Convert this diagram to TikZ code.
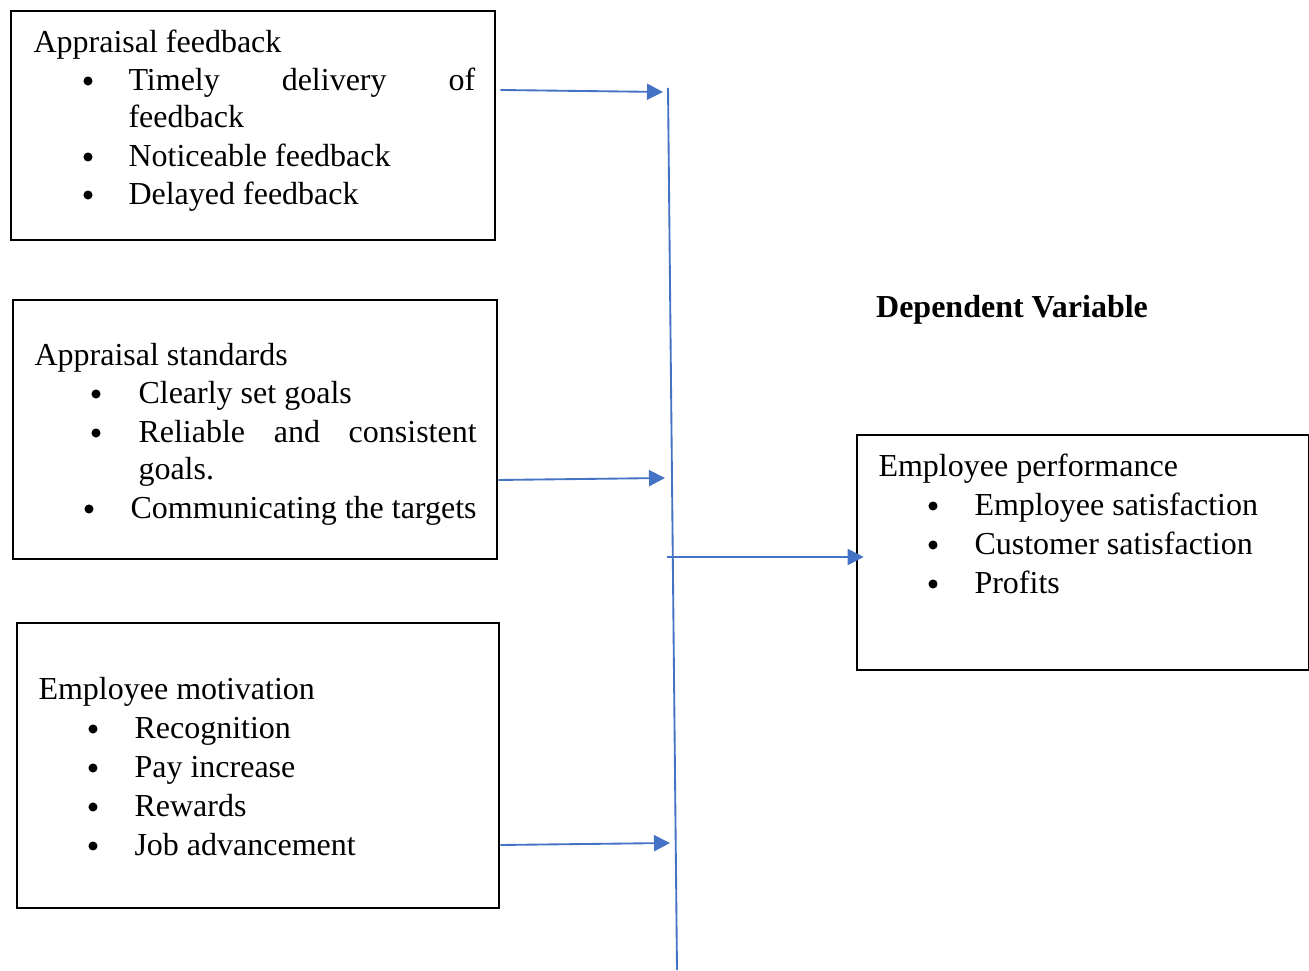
\documentclass[tikz,border=0pt]{standalone}
\usepackage{fontspec}
\setmainfont{Liberation Serif}
\usetikzlibrary{arrows.meta,fit}
\definecolor{linkblue}{HTML}{4472C4}

\begin{document}
\begin{tikzpicture}[x=0.375pt, y=-0.375pt,
    box/.style={draw, line width=1pt, inner sep=0pt},
    txt/.style={anchor=base west, inner sep=0pt, font=\fontsize{12}{14}\selectfont},
    dot/.style={circle, fill, inner sep=0pt, minimum size=3.4pt},
    link/.style={draw=linkblue, line width=0.7pt},
    arr/.style={link, -{Triangle[length=6pt,width=6pt]}}]
  \useasboundingbox (0,0) rectangle (1309,971);

  % Boxes
  \node[box, fit={(11,11)(495,240)}] (feedback) {};
  \node[box, fit={(13,300)(497,559)}] (standards) {};
  \node[box, fit={(17,623)(499,908)}] (motivation) {};
  \node[box, fit={(857,435)(1309,670)}] (performance) {};

  % Appraisal feedback
  \node[txt] (fbhead) at (33,53) {Appraisal feedback};
  \node[txt] (fb1) at (128,91) {\makebox[130pt][s]{Timely delivery of}};
  \node[txt] (fb1b) at (128,128) {feedback};
  \node[txt] (fb2) at (128,167) {Noticeable feedback};
  \node[txt] (fb3) at (128,205) {Delayed feedback};
  \foreach \y [count=\i] in {81,157,195}
    \node[dot] (fbdot\i) at (88,\y) {};

  % Appraisal standards
  \node[txt] (sthead) at (34,366) {Appraisal standards};
  \node[txt] (st1) at (138,404) {Clearly set goals};
  \node[txt] (st2) at (138,443) {\makebox[126.8pt][s]{Reliable and consistent}};
  \node[txt] (st2b) at (138,480) {goals.};
  \node[txt] (st3) at (130,519) {Communicating the targets};
  \foreach \y [count=\i] in {394,433}
    \node[dot] (stdot\i) at (96,\y) {};
  \node[dot] (stdot3) at (89,509) {};

  % Employee motivation
  \node[txt] (mohead) at (38,700) {Employee motivation};
  \foreach \t/\y [count=\i] in {Recognition/739, Pay increase/778, Rewards/817, Job advancement/856} {
    \node[txt] (mo\i) at (134,\y) {\t};
    \node[dot] (modot\i) at (93,\y-10) {};
  }

  % Employee performance
  \node[txt] (pehead) at (878,477) {Employee performance};
  \foreach \t/\y [count=\i] in {Employee satisfaction/516, Customer satisfaction/555, Profits/594} {
    \node[txt] (pe\i) at (974,\y) {\t};
    \node[dot] (pedot\i) at (933,\y-10) {};
  }

  \node[anchor=base, inner sep=0pt, font=\fontsize{12}{14}\selectfont\bfseries] (dep) at (1012,318) {Dependent Variable};

  % Connectors
  \coordinate (bustop) at (668,88);
  \coordinate (busbot) at (677,970);
  \coordinate (in1) at (663,92);
  \coordinate (in2) at (665,478);
  \coordinate (in3) at (670,843);
  \coordinate (out) at (667,557);
  \draw[link] (bustop) -- (busbot);
  \draw[arr] (feedback.east |- 0,90) ++(4,0) -- (in1);
  \draw[arr] (standards.east |- 0,480) -- (in2);
  \draw[arr] (motivation.east |- 0,845) -- (in3);
  \draw[arr] (out) -- (performance.west |- out) -- ++(8,0);
\end{tikzpicture}
\end{document}
